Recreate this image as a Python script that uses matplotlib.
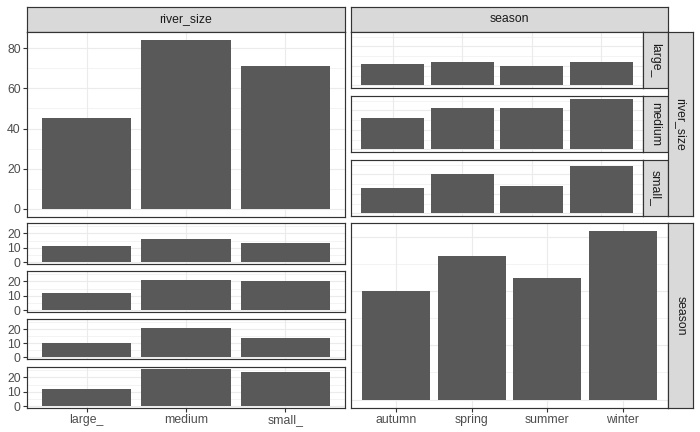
import matplotlib
matplotlib.use("Agg")
import matplotlib.pyplot as plt

plt.rcParams['font.family'] = ['Liberation Sans', 'DejaVu Sans']

# data
riverLevels = ["large_", "medium", "small_"]
seasonLevels = ["autumn", "spring", "summer", "winter"]
riverCounts = [45, 84, 71]
seasonCounts = [40, 53, 45, 62]
# counts per season (rows) and river size (columns)
autumnByRiver = [11, 16, 13]
springByRiver = [12, 21, 20]
summerByRiver = [10, 21, 14]
winterByRiver = [12, 26, 24]
seasonByRiver = [autumnByRiver, springByRiver, summerByRiver, winterByRiver]

W, H = 700, 432
BAR = '#595959'
GRID = '#EBEBEB'
EDGE = '#333333'
STRIP = '#D9D9D9'
TICKTXT = '#4D4D4D'
FS = 8.8

fig = plt.figure(figsize=(W / 100, H / 100), dpi=100)


def pxAxes(x1, y1, x2, y2):
   return fig.add_axes([x1 / W, 1 - y2 / H, (x2 - x1) / W, (y2 - y1) / H])


def panel(box, values, ymax, major, minor, showY, xlabels=None):
   ax = pxAxes(*box)
   n = len(values)
   pos = list(range(1, n + 1))
   ax.bar(pos, values, width=0.9, color=BAR, zorder=3)
   ax.set_xlim(0.4, n + 0.6)
   ax.set_ylim(-0.05 * ymax, 1.05 * ymax)
   ax.set_yticks(major)
   ax.set_yticks(minor, minor=True)
   ax.set_xticks(pos)
   ax.grid(True, which='major', color=GRID, linewidth=0.8, zorder=0)
   ax.grid(True, which='minor', axis='y', color=GRID, linewidth=0.4, zorder=0)
   for s in ax.spines.values():
      s.set_color(EDGE)
      s.set_linewidth(0.85)
   ax.tick_params(which='minor', length=0)
   ax.tick_params(which='major', color=EDGE, width=0.8, length=3,
                  labelsize=FS, labelcolor=TICKTXT, pad=1.5)
   if showY:
      ax.set_yticklabels([str(v) for v in major])
   else:
      ax.tick_params(axis='y', which='major', length=0, labelleft=False)
   if xlabels is None:
      ax.tick_params(axis='x', which='major', length=0, labelbottom=False)
   else:
      ax.set_xticklabels(xlabels)
   return ax


def strip(box, label, rotation=0):
   ax = pxAxes(*box)
   ax.set_facecolor(STRIP)
   ax.set_xticks([])
   ax.set_yticks([])
   for s in ax.spines.values():
      s.set_color(EDGE)
      s.set_linewidth(0.85)
   ax.text(0.5, 0.5, label, transform=ax.transAxes, ha='center', va='center',
           rotation=rotation, fontsize=FS, color='#1A1A1A')
   return ax


smallMax = max(max(r) for r in seasonByRiver)

# top left: river_size counts
strip((27, 7, 345, 32), "river_size")
panel((27, 32, 345, 217), riverCounts, max(riverCounts),
      [0, 20, 40, 60, 80], [10, 30, 50, 70], True)

# bottom left: river_size counts for each season
leftBoxes = [(27, 223, 345, 264), (27, 271, 345, 312),
             (27, 319, 345, 359), (27, 367, 345, 408)]
for i, row in enumerate(seasonByRiver):
   last = i == len(seasonByRiver) - 1
   panel(leftBoxes[i], row, smallMax, [0, 10, 20], [5, 15, 25], True,
         riverLevels if last else None)

# top right: season counts for each river size
strip((351, 7, 668, 32), "season")
rightBoxes = [(351, 32, 643, 88), (351, 96, 643, 152), (351, 160, 643, 216)]
for j, lvl in enumerate(riverLevels):
   col = [seasonByRiver[i][j] for i in range(len(seasonLevels))]
   panel(rightBoxes[j], col, smallMax, [0, 10, 20], [5, 15, 25], False)
   x1, y1, x2, y2 = rightBoxes[j]
   strip((643, y1, 668, y2), lvl, rotation=270)
strip((668, 32, 693, 216), "river_size", rotation=270)

# bottom right: season counts
panel((351, 223, 668, 408), seasonCounts, max(seasonCounts),
      [0, 20, 40, 60], [10, 30, 50], False, seasonLevels)
strip((668, 223, 693, 408), "season", rotation=270)

fig.savefig("out.png", dpi=100, facecolor='white')
